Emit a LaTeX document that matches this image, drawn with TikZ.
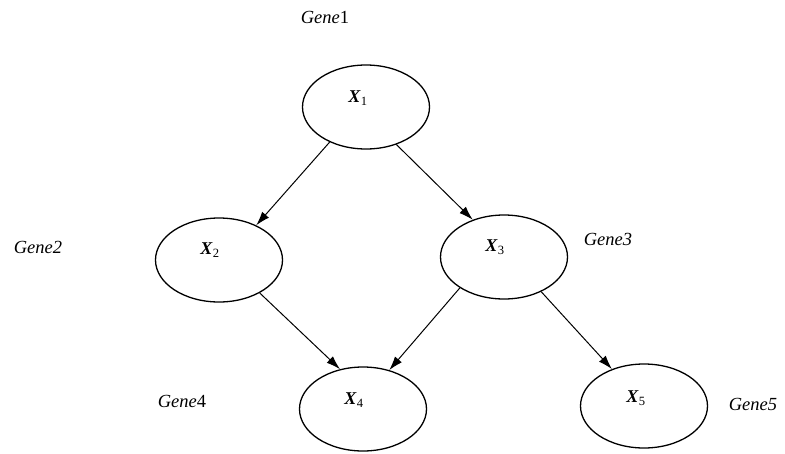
\documentclass[tikz,border=0pt]{standalone}
\usepackage{fontspec}
\setmainfont{Liberation Serif}
\usetikzlibrary{arrows.meta,shapes.geometric}
\begin{document}
\begin{tikzpicture}[x=1pt,y=-1pt,
  geneell/.style={draw, line width=1.3pt, ellipse, minimum width=127pt, minimum height=84pt, inner sep=0pt},
  xlab/.style={font=\fontsize{18}{20}\selectfont, inner sep=0pt},
  glab/.style={font=\fontsize{18.5}{20}\selectfont\itshape, inner sep=0pt},
  edge/.style={line width=1pt, -{Latex[length=14pt,width=9pt]}}]
\useasboundingbox (0,0) rectangle (785,453);
\node[geneell] (x1) at (366,107) {};
\node[geneell] (x2) at (219,260) {};
\node[geneell] (x3) at (504,257) {};
\node[geneell] (x4) at (363,409) {};
\node[geneell] (x5) at (644,406) {};
\node[xlab] (l1) at (358,98) {\textbf{\textit{X}}\textsubscript{1}};
\node[xlab] (l2) at (210,250) {\textbf{\textit{X}}\textsubscript{2}};
\node[xlab] (l3) at (495,247) {\textbf{\textit{X}}\textsubscript{3}};
\node[xlab] (l4) at (354,400) {\textbf{\textit{X}}\textsubscript{4}};
\node[xlab] (l5) at (636,398) {\textbf{\textit{X}}\textsubscript{5}};
\node[glab] (g1) at (325,17) {Gene\upshape 1};
\node[glab] (g2) at (38,247) {Gene2};
\node[glab] (g3) at (608,239) {Gene3};
\node[glab] (g4) at (182,401) {Gene\upshape 4};
\node[glab] (g5) at (753,404) {Gene5};
\draw[edge] (x1.224) -- (x2.43);
\draw[edge] (x1.309) -- (x3.130);
\draw[edge] (x2.321) -- (x4.120);
\draw[edge] (x3.215) -- (x4.56);
\draw[edge] (x3.317) -- (x5.131);
\end{tikzpicture}
\end{document}
